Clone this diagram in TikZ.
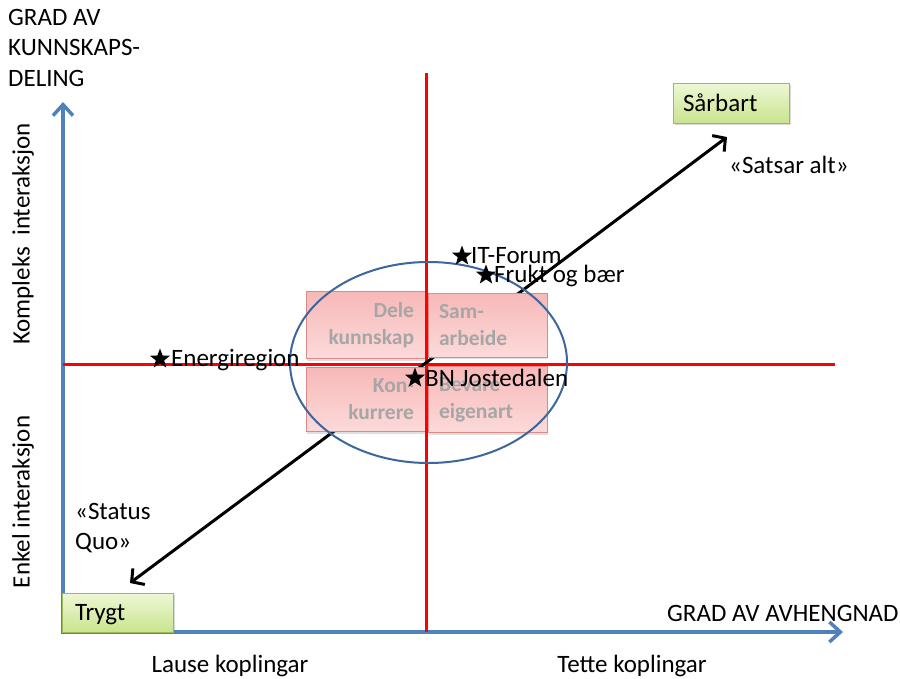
\documentclass[tikz,border=0pt]{standalone}
\usepackage{fontspec}
\setmainfont{Carlito}
\usetikzlibrary{arrows.meta,shadows,shapes.geometric}
\definecolor{axisblue}{HTML}{4F81BD}
\definecolor{ellblue}{HTML}{3D669B}
\definecolor{pinkborder}{HTML}{DB8A88}
\definecolor{pinktop}{HTML}{F7B8B8}
\definecolor{pinkbot}{HTML}{FCDADA}
\definecolor{greentop}{HTML}{EEF8D6}
\definecolor{greenbot}{HTML}{C9E48E}
\definecolor{greenborder}{HTML}{9BBB59}
\definecolor{boxtext}{HTML}{A6A6A6}
\tikzset{
  lbl/.style={font=\fontsize{25}{30.5}\selectfont, inner sep=0pt, anchor=base west},
  axisline/.style={draw=axisblue, line width=3.5pt, -{Straight Barb[length=11pt,width=20pt]}},
  redline/.style={draw=red, line width=3pt},
  blackarrow/.style={draw=black, line width=3pt, -{Straight Barb[length=9pt,width=20pt]}},
  quad/.style={draw=pinkborder, line width=1pt, top color=pinktop, bottom color=pinkbot,
    minimum width=119pt, minimum height=64pt, text width=97pt, inner sep=11pt,
    font=\bfseries\fontsize{21.5}{27}\selectfont, text=boxtext,
    drop shadow={opacity=0.25, shadow xshift=1pt, shadow yshift=-2pt}},
  greenbox/.style={draw=greenborder, line width=1pt, top color=greentop, bottom color=greenbot,
    font=\fontsize{25}{30}\selectfont, inner sep=0pt, align=left,
    text height=16pt, text depth=0pt,
    drop shadow={opacity=0.3, shadow xshift=1.5pt, shadow yshift=-2pt}},
  starmark/.style={star, star points=5, star point ratio=2.4, fill=black, draw=none,
    minimum size=21pt, inner sep=0pt},
}
\begin{document}
\begin{tikzpicture}[x=1pt,y=-1pt]
\useasboundingbox (0,0) rectangle (900,678);
\fill[white] (0,0) rectangle (900,678);

% axes
\coordinate (origin) at (63,632);
\coordinate (ytop) at (63,102);
\coordinate (xend) at (843,632);
\draw[axisline] (origin) -- (ytop);
\draw[axisline] ([xshift=-1.75pt]origin) -- (xend);

% red quadrant lines
\coordinate (rvtop) at (426,73);
\coordinate (rvbot) at (426,632);
\coordinate (rhl) at (63,364);
\coordinate (rhr) at (835,364);
\draw[redline] (rvtop) -- (rvbot);
\draw[redline] (rhl) -- (rhr);

% black arrows
\coordinate (ctr) at (427,362);
\coordinate (tipS) at (727,137);
\coordinate (tipT) at (130,583);
\draw[blackarrow] (ctr) -- (tipS);
\draw[blackarrow] (ctr) -- (tipT);

% quadrant boxes
\node[quad, align=right] (dele) at (365.5,325) {Dele\\kunnskap};
\node[quad, align=left]  (sam)  at (487.5,325) {Sam-\\arbeide};
\node[quad, align=right] (kon)  at (365.5,399.5) {Kon-\\kurrere};
\node[quad, align=left]  (bev)  at (487.5,399.5) {Bevare\\eigenart};

% red vertical line over the boxes' gap
\draw[redline] (dele.north east) ++(1,0) coordinate (g1) -- (dele.south east -| g1);
\draw[redline] (kon.north east) ++(1,0) coordinate (g2) -- (kon.south east -| g2);

% ellipse
\node[draw=ellblue, line width=2pt, ellipse, minimum width=277pt, minimum height=201pt, inner sep=0pt] (ell) at (428.5,362.5) {};

% green boxes
\node[greenbox, text width=116pt, minimum height=40pt] (sarbart) at (731,103) {\hspace*{10pt}Sårbart};
\node[greenbox, text width=111pt, minimum height=39pt] (trygt) at (117.5,612.5) {\hspace*{13pt}Trygt};

% stars
\node[starmark] (st1) at (462,256) {};
\node[starmark] (st2) at (486,275) {};
\node[starmark] (st3) at (160,359) {};
\node[starmark] (st4) at (415,378) {};
\node[lbl] (itf) at (471,263) {IT-Forum};
\node[lbl] (fruk) at (494,282) {Frukt og bær};
\node[lbl] (ener) at (171,366) {Energiregion};
\node[lbl] (bnj) at (425,386) {BN Jostedalen};

% texts
\node[lbl] (satsar) at (729,173) {«Satsar alt»};
\node[lbl, align=left, anchor=north west] (status) at (75,503) {«Status\\Quo»};
\node[lbl, align=left, anchor=north west] (gradk) at (8,9) {GRAD AV\\KUNNSKAPS-\\DELING};
\node[lbl] (grada) at (667,621) {GRAD AV AVHENGNAD};
\node[lbl, anchor=base] (lause) at (230,672) {Lause koplingar};
\node[lbl, anchor=base] (tette) at (632,672) {Tette koplingar};
\node[font=\fontsize{25}{30}\selectfont, rotate=90, inner sep=0pt] (komp) at (23,234) {Kompleks\ \ interaksjon};
\node[font=\fontsize{25}{30}\selectfont, rotate=90, inner sep=0pt] (enk) at (23,502) {Enkel interaksjon};
\end{tikzpicture}
\end{document}
